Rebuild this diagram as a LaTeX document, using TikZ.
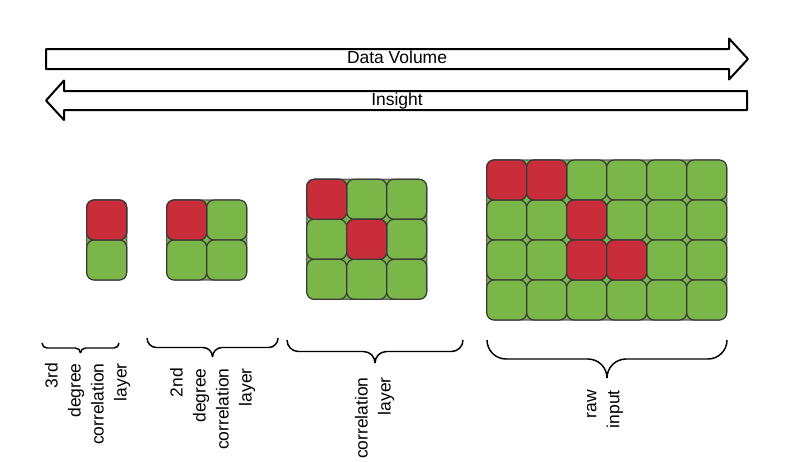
\documentclass[tikz,border=0pt]{standalone}
\usepackage{fontspec}
\setmainfont{Liberation Sans}
\definecolor{cred}{HTML}{C92D39}
\definecolor{cgreen}{HTML}{7AB648}
\definecolor{cstroke}{HTML}{3A3A3A}
\begin{document}
\begin{tikzpicture}[x=0.75pt,y=-0.75pt, line join=round,
 arrowshape/.style={draw=black,line width=1.5pt,fill=white},
 gbox/.style={draw=cstroke!80,fill=cgreen,line width=0.9pt,rounded corners=6pt},
 gcell/.style={draw=cstroke,fill=cgreen,line width=0.9pt,rounded corners=5.5pt},
 rcell/.style={gcell,fill=cred},
 bracepath/.style={draw=black,line width=1.1pt},
 lbl/.style={rotate=90,align=right,anchor=east,inner sep=0pt,font=\fontsize{13.1}{17.25}\selectfont},
 ttl/.style={font=\fontsize{13.1}{16}\selectfont,inner sep=0pt,anchor=base}]
\useasboundingbox (0,0) rectangle (787,461);

% arrows
\draw[arrowshape] (46,49) -- (729,49) -- (729,38.5) -- (748,59) -- (729,79.5) -- (729,69) -- (46,69) -- cycle;
\draw[arrowshape] (747,91) -- (64,91) -- (64,80.5) -- (46,100.5) -- (64,120) -- (64,110) -- (747,110) -- cycle;
\node[ttl] (dv) at (397,63.5) {Data Volume};
\node[ttl] (ins) at (397,105) {Insight};

% grid 1
\draw[gbox] (86.7,200) rectangle (126.7,280);
\foreach \r in {0,1} \draw[gcell] (86.7,200+40*\r) rectangle ++(40,40);
\draw[rcell] (86.7,200) rectangle ++(40,40);

% grid 2
\draw[gbox] (166.7,200) rectangle (246.7,280);
\foreach \c in {0,1} \foreach \r in {0,1} \draw[gcell] (166.7+40*\c,200+40*\r) rectangle ++(40,40);
\draw[rcell] (166.7,200) rectangle ++(40,40);

% grid 3
\draw[gbox] (306.7,179.3) rectangle (426.7,299.3);
\foreach \c in {0,1,2} \foreach \r in {0,1,2} \draw[gcell] (306.7+40*\c,179.3+40*\r) rectangle ++(40,40);
\foreach \c/\r in {0/0,1/1} \draw[rcell] (306.7+40*\c,179.3+40*\r) rectangle ++(40,40);

% grid 4
\draw[gbox] (486.7,160) rectangle (726.7,320);
\foreach \c in {0,...,5} \foreach \r in {0,...,3} \draw[gcell] (486.7+40*\c,160+40*\r) rectangle ++(40,40);
\foreach \c/\r in {0/0,1/0,2/1,2/2,3/2} \draw[rcell] (486.7+40*\c,160+40*\r) rectangle ++(40,40);

% braces
\foreach \xa/\xb/\ya/\yb in {42/119/343/353, 147/278/338/357, 287/463/340/363, 487/727/340/378}{
  \pgfmathsetmacro{\xc}{(\xa+\xb)/2}
  \pgfmathsetmacro{\ym}{(\ya+\yb)/2}
  \pgfmathsetmacro{\rr}{(\yb-\ya)/2*0.75}
  \draw[bracepath,rounded corners=\rr pt] (\xa,\ya) |- (\xc,\ym) -- (\xc,\yb);
  \draw[bracepath,rounded corners=\rr pt] (\xb,\ya) |- (\xc,\ym) -- (\xc,\yb);
}

% labels
\node[lbl] (l1) at (87.5,363) {3rd\\degree\\correlation\\layer};
\node[lbl] (l2) at (212.5,368) {2nd\\degree\\correlation\\layer};
\node[lbl] (l3) at (374.5,377) {correlation\\layer};
\node[lbl] (l4) at (605,390) {raw\\input};
\end{tikzpicture}
\end{document}
